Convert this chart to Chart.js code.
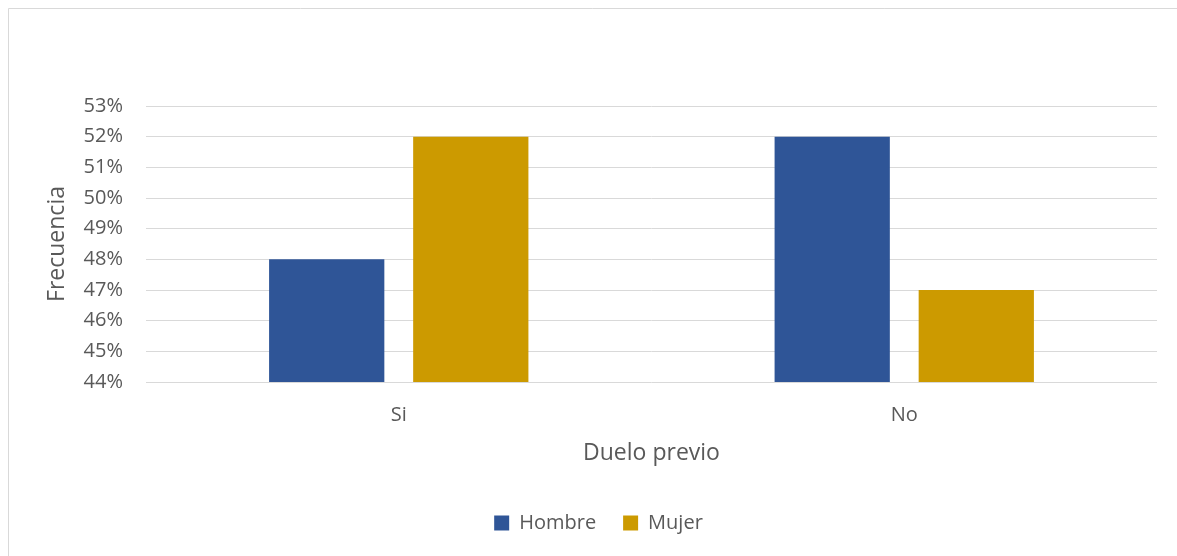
<!DOCTYPE html>
<html>
<head>
<meta charset="utf-8">
<script src="https://cdn.jsdelivr.net/npm/chart.js@4"></script>
<style>
html,body{margin:0;padding:0;background:#fff;}
#wrap{position:relative;width:1177px;height:556px;}
</style>
</head>
<body>
<div id="wrap"><canvas id="c" width="1177" height="556"></canvas></div>
<script>
const categories = ["Si", "No"];
const hombre = [48, 52];
const mujer = [52, 47];
const seriesNames = ["Hombre", "Mujer"];
const yMin = 44, yMax = 53, yStep = 1;

const FONT = "'Open Sans', sans-serif";
const GRAY = "#595959";

const borderPlugin = {
  id: 'frame',
  beforeDraw(chart) {
    const ctx = chart.ctx;
    ctx.save();
    ctx.fillStyle = '#ffffff';
    ctx.fillRect(0, 0, chart.width, chart.height);
    ctx.strokeStyle = '#d9d9d9';
    ctx.lineWidth = 1;
    ctx.beginPath();
    ctx.moveTo(8.5, chart.height);
    ctx.lineTo(8.5, 8.5);
    ctx.lineTo(chart.width, 8.5);
    ctx.stroke();
    ctx.restore();
  }
};

new Chart(document.getElementById('c'), {
  type: 'bar',
  data: {
    labels: categories,
    datasets: [
      { label: seriesNames[0], data: hombre, backgroundColor: '#2F5597', categoryPercentage: 0.57, barPercentage: 0.8 },
      { label: seriesNames[1], data: mujer, backgroundColor: '#CC9A00', categoryPercentage: 0.57, barPercentage: 0.8 }
    ]
  },
  plugins: [borderPlugin],
  options: {
    responsive: false,
    animation: false,
    layout: { padding: { top: 106, right: 20, bottom: 13, left: 40 } },
    plugins: {
      legend: {
        position: 'bottom',
        labels: {
          font: { family: FONT, size: 20 },
          color: GRAY,
          boxWidth: 15,
          boxHeight: 15,
          padding: 27
        }
      },
      tooltip: { enabled: false }
    },
    scales: {
      x: {
        grid: { display: false },
        border: { display: false },
        ticks: { font: { family: FONT, size: 20 }, color: GRAY, padding: 13 },
        title: { display: true, text: 'Duelo previo', font: { family: FONT, size: 23 }, color: GRAY, padding: { top: 0, bottom: 19 } },
        afterFit(scale) { scale.height = 104; }
      },
      y: {
        min: yMin, max: yMax,
        ticks: { stepSize: yStep, font: { family: FONT, size: 20 }, color: GRAY, padding: 23, callback: v => v + '%' },
        grid: { color: '#d9d9d9', lineWidth: 1, drawTicks: false },
        border: { display: false },
        title: { display: true, text: 'Frecuencia', font: { family: FONT, size: 23 }, color: GRAY, padding: { top: 4, bottom: 0 } },
        afterFit(scale) { scale.width = 106; }
      }
    }
  }
});
</script>
</body>
</html>
